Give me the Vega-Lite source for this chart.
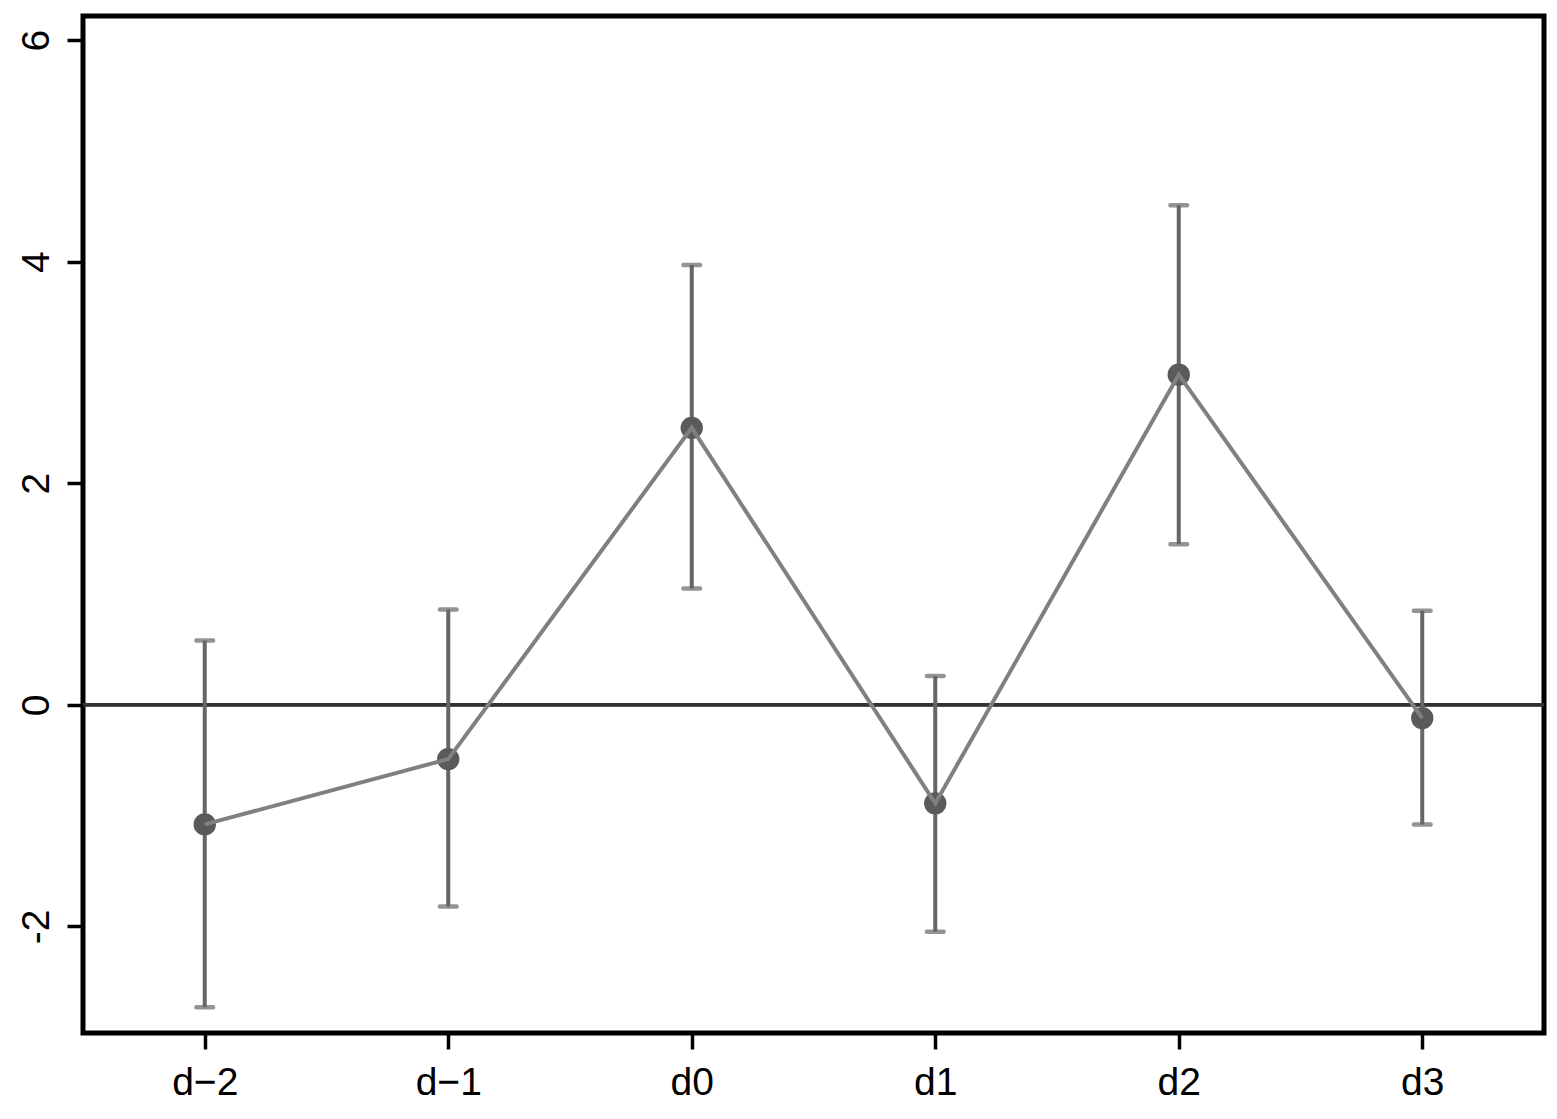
{
  "$schema": "https://vega.github.io/schema/vega-lite/v6.json",
  "autosize": {"type": "none"},
  "width": 1461,
  "height": 1017,
  "padding": {"left": 83, "top": 16, "right": 13, "bottom": 86},
  "background": "white",
  "config": {
    "view": {"stroke": "black", "strokeWidth": 5},
    "font": "Liberation Sans",
    "axis": {
      "domain": false,
      "grid": false,
      "ticks": true,
      "tickColor": "black",
      "tickWidth": 3.5,
      "tickSize": 16,
      "labelFont": "Liberation Sans",
      "labelFontSize": 39,
      "labelColor": "black",
      "title": null
    }
  },
  "data": {
    "values": [
      {"period": "d−2", "est": -1.08, "lo": -2.73, "hi": 0.58},
      {"period": "d−1", "est": -0.49, "lo": -1.82, "hi": 0.86},
      {"period": "d0", "est": 2.50, "lo": 1.05, "hi": 3.97},
      {"period": "d1", "est": -0.89, "lo": -2.05, "hi": 0.26},
      {"period": "d2", "est": 2.98, "lo": 1.45, "hi": 4.51},
      {"period": "d3", "est": -0.12, "lo": -1.08, "hi": 0.85}
    ]
  },
  "encoding": {
    "x": {
      "field": "period",
      "type": "ordinal",
      "sort": null,
      "scale": {"type": "point", "padding": 0.5},
      "axis": {"labelAngle": 0, "labelPadding": 14}
    }
  },
  "layer": [
    {
      "mark": {"type": "rule", "color": "#333333", "strokeWidth": 3},
      "encoding": {"y": {"datum": 0, "type": "quantitative"}, "x": null}
    },
    {
      "mark": {"type": "rule", "color": "#666666", "strokeWidth": 4},
      "encoding": {
        "y": {
          "field": "lo",
          "type": "quantitative",
          "scale": {"domain": [-2.963, 6.218], "nice": false, "zero": false},
          "axis": {"values": [-2, 0, 2, 4, 6], "format": "d", "labelAngle": -90, "labelPadding": 11, "labelExpr": "replace(datum.label, '−', '-')"}
        },
        "y2": {"field": "hi"}
      }
    },
    {
      "mark": {"type": "tick", "color": "#666666", "size": 21, "thickness": 4.5, "orient": "horizontal", "cornerRadius": 2},
      "encoding": {"y": {"field": "lo", "type": "quantitative"}}
    },
    {
      "mark": {"type": "tick", "color": "#666666", "size": 21, "thickness": 4.5, "orient": "horizontal", "cornerRadius": 2},
      "encoding": {"y": {"field": "hi", "type": "quantitative"}}
    },
    {
      "mark": {"type": "point", "filled": true, "shape": "circle", "size": 500, "color": "#5a5a5a", "opacity": 1},
      "encoding": {"y": {"field": "est", "type": "quantitative"}}
    },
    {
      "mark": {"type": "line", "color": "#808080", "strokeWidth": 4},
      "encoding": {"y": {"field": "est", "type": "quantitative"}}
    }
  ]
}
